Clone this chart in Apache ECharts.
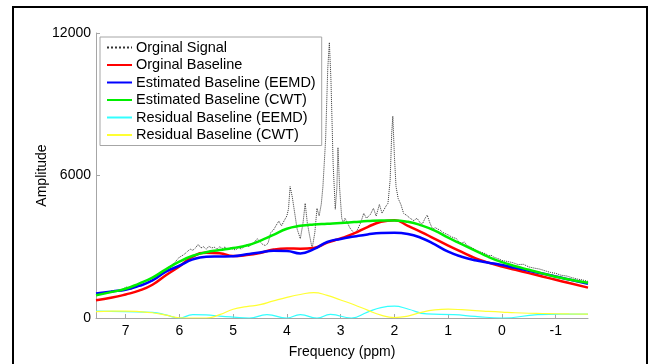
<!DOCTYPE html>
<html>
<head>
<meta charset="utf-8">
<script src="https://cdn.jsdelivr.net/npm/echarts@6/dist/echarts.min.js"></script>
<style>
  html, body { margin: 0; padding: 0; background: #fff; }
  #chart { width: 650px; height: 364px; }
</style>
</head>
<body>
<div id="chart"></div>
<script>
// frequency grid (ppm) shared by the smooth baselines
const baseX = [7.55, 7.25, 7.0, 6.75, 6.5, 6.25, 6.0, 5.75, 5.5, 5.25, 5.0, 4.75, 4.5, 4.25, 4.0, 3.75, 3.5, 3.25, 3.0,
    2.75, 2.5, 2.25, 2.0, 1.75, 1.5, 1.25, 1.0, 0.75, 0.5, 0.25, 0, -0.25, -0.5, -0.75, -1.0, -1.25, -1.6];

const origBaseline = [750, 860, 990, 1150, 1400, 1800, 2170, 2580, 2750, 2730, 2610, 2650, 2740, 2880, 2930, 2920, 2950, 3175, 3350,
    3560, 3830, 4050, 4120, 3880, 3620, 3330, 3050, 2780, 2520, 2330, 2170, 2030, 1890, 1750, 1610, 1470, 1280];

const eemdBaseline = [1030, 1120, 1190, 1350, 1580, 1950, 2200, 2470, 2580, 2590, 2600, 2680, 2760, 2830, 2820, 2720, 2900, 3200, 3330,
    3430, 3520, 3580, 3590, 3540, 3370, 3100, 2790, 2580, 2430, 2330, 2230, 2110, 1990, 1870, 1750, 1620, 1440];

const cwtBaseline = [960, 1100, 1230, 1450, 1700, 2050, 2370, 2620, 2770, 2860, 2950, 3050, 3250, 3500, 3760, 3880, 3940, 3970, 4000,
    4040, 4080, 4110, 4110, 4050, 3900, 3680, 3380, 3110, 2840, 2570, 2350, 2180, 2030, 1880, 1740, 1620, 1480];

const cwtResidual = [270, 290, 290, 270, 220, 120, 10, 0, 0, 140, 370, 480, 560, 720, 870, 990, 1070, 950, 760,
    560, 330, 120, 20, 80, 240, 340, 370, 350, 310, 280, 250, 220, 200, 190, 180, 170, 165];

const eemdResidualX = [7.55, 7.0, 6.5, 6.25, 6.0, 5.75, 5.5, 5.25, 5.0, 4.7, 4.37, 4.0, 3.75, 3.44, 3.19, 2.8,
    2.5, 2.25, 2.0, 1.75, 1.4, 0.9, 0.5, 0, -0.66, -1.1, -1.6];
const eemdResidual = [290, 265, 235, 130, 0, 140, 130, 80, 40, 0, 140, 0, 140, 0, 150, 0,
    250, 440, 500, 380, 170, 140, 70, 0, 140, 165, 165];

const signalX = [7.55, 7.45, 7.35, 7.25, 7.15, 7.05, 6.98, 6.9, 6.8, 6.7, 6.6, 6.5, 6.4, 6.3, 6.25, 6.2, 6.1, 6.0,
    5.95, 5.9, 5.85, 5.8, 5.75, 5.7, 5.65, 5.6, 5.55, 5.5, 5.45, 5.4, 5.35, 5.3, 5.25, 5.2, 5.15, 5.1, 5.05, 5.0,
    4.95, 4.9, 4.85, 4.8, 4.75, 4.7, 4.65, 4.6, 4.55, 4.5, 4.45, 4.4, 4.35, 4.3, 4.25, 4.2, 4.15, 4.1, 4.05, 4.0,
    3.97, 3.94, 3.9, 3.86, 3.81, 3.75, 3.7, 3.66, 3.62, 3.58, 3.53, 3.48, 3.44, 3.4, 3.36, 3.33, 3.28, 3.24, 3.21,
    3.18, 3.14, 3.1, 3.07, 3.05, 3.02, 2.98, 2.95, 2.92, 2.88, 2.83, 2.78, 2.73, 2.68, 2.63, 2.57, 2.52, 2.45, 2.39,
    2.34, 2.28, 2.23, 2.16, 2.12, 2.08, 2.05, 2.03, 2.0, 1.97, 1.93, 1.88, 1.83, 1.76, 1.71, 1.64, 1.58, 1.52, 1.48,
    1.43, 1.39, 1.34, 1.29, 1.24, 1.2, 1.15, 1.1, 1.0, 0.95, 0.9, 0.85, 0.8, 0.75, 0.7, 0.65, 0.6, 0.55, 0.5, 0.45,
    0.4, 0.35, 0.3, 0.25, 0.2, 0.15, 0.1, 0.05, 0, -0.1, -0.2, -0.3, -0.4, -0.5, -0.6, -0.7, -0.8, -0.9, -1.0, -1.1,
    -1.2, -1.3, -1.4, -1.5, -1.6];
const signalY = [1000, 1060, 1040, 1150, 1120, 1230, 1300, 1200, 1330, 1380, 1480, 1560, 1700, 1900, 2000, 2150, 2300, 2560,
    2620, 2700, 2800, 2900, 2850, 2950, 3100, 2950, 3000, 2900, 3020, 2950, 2980, 2900, 3000, 2930, 2990, 2880, 2950, 2900,
    2860, 2980, 2900, 3000, 3080, 3000, 3120, 3200, 3340, 3200, 3100, 3050, 3150, 3600, 3700, 3900, 4080, 3880, 4100, 4300,
    4600, 5530, 5100, 4500, 3750, 3340, 4000, 4830, 4000, 3500, 2930, 3600, 4620, 4300, 4800, 5530, 7500, 10500, 11600,
    10000, 6500, 4580, 5500, 7175, 5500, 4200, 4000, 4200, 4040, 3800, 3650, 3550, 3750, 4000, 4410, 4200, 4350, 4620,
    4290, 4780, 4410, 4700, 4830, 5800, 7800, 8495, 6800, 5530, 5030, 4780, 4410, 4300, 4200, 4100, 4200, 4000, 3960,
    4200, 4330, 4000, 3750, 3800, 3750, 3700, 3600, 3500, 3430, 3380, 3350, 3200, 3150, 3200, 3050, 3010, 2950, 2880, 2820,
    2780, 2740, 2700, 2620, 2640, 2560, 2520, 2480, 2420, 2380, 2330, 2250, 2260, 2150, 2100, 2060, 1990, 1920, 1880, 1800,
    1770, 1700, 1640, 1600, 1540];

const xTicks = [7, 6, 5, 4, 3, 2, 1, 0, -1];
const yTicks = [0, 6000, 12000];

const zip = (xs, ys) => xs.map((x, i) => [x, ys[i]]);

const chart = echarts.init(document.getElementById('chart'));
const font = '"Liberation Sans", Arial, sans-serif';
const axisGrey = '#a6a6a6';

const lineSeries = (name, xs, ys, color, width, smooth, type) => ({
    name: name,
    type: 'line',
    data: zip(xs, ys),
    symbol: 'none',
    smooth: smooth,
    animation: false,
    lineStyle: { color: color, width: width, type: type || 'solid' },
    itemStyle: { color: color }
});

const option = {
    animation: false,
    backgroundColor: '#fff',
    textStyle: { fontFamily: font },
    graphic: [{
        type: 'rect',
        silent: true,
        shape: { x: 13, y: 7, width: 634, height: 400 },
        style: { fill: 'none', stroke: '#000', lineWidth: 2 }
    }],
    grid: { left: 96, top: 33, right: 62, bottom: 40 },
    xAxis: {
        type: 'value',
        inverse: true,
        min: -1.6,
        max: 7.55,
        name: 'Frequency (ppm)',
        nameLocation: 'middle',
        nameGap: 27,
        nameMoveOverlap: false,
        nameTextStyle: { color: '#000', fontSize: 14, fontFamily: font },
        splitLine: { show: false },
        axisLine: { onZero: false, lineStyle: { color: axisGrey, width: 1 } },
        axisTick: { inside: true, length: 4, customValues: xTicks, lineStyle: { color: axisGrey } },
        axisLabel: { customValues: xTicks, color: '#000', fontSize: 14, margin: 6, fontFamily: font }
    },
    yAxis: {
        type: 'value',
        min: 0,
        max: 12000,
        name: 'Amplitude',
        nameLocation: 'middle',
        nameGap: 47,
        nameMoveOverlap: false,
        nameTextStyle: { color: '#000', fontSize: 14, fontFamily: font },
        splitLine: { show: false },
        axisLine: { show: true, onZero: false, lineStyle: { color: axisGrey, width: 1 } },
        axisTick: { inside: true, length: 4, customValues: yTicks, lineStyle: { color: axisGrey } },
        axisLabel: {
            customValues: yTicks, color: '#000', fontSize: 14, margin: 5, fontFamily: font,
            formatter: v => String(v)
        }
    },
    legend: {
        orient: 'vertical',
        left: 100,
        top: 37,
        padding: [3, 6, 3, 6],
        itemGap: 2.5,
        itemWidth: 25,
        itemHeight: 15,
        itemStyle: { opacity: 0 },
        backgroundColor: '#fff',
        borderColor: axisGrey,
        borderWidth: 1,
        borderRadius: 0,
        textStyle: { color: '#000', fontSize: 14.5, lineHeight: 15, fontFamily: font, padding: [0, 0, 0, -1] },
        data: ['Orginal Signal', 'Orginal Baseline', 'Estimated Baseline (EEMD)', 'Estimated Baseline (CWT)',
            'Residual Baseline (EEMD)', 'Residual Baseline (CWT)']
    },
    series: [
        lineSeries('Orginal Signal', signalX, signalY, '#333', 1, false, 'dotted'),
        lineSeries('Orginal Baseline', baseX, origBaseline, '#ff0000', 2.5, true),
        lineSeries('Estimated Baseline (EEMD)', baseX, eemdBaseline, '#0000ff', 2.5, true),
        lineSeries('Estimated Baseline (CWT)', baseX, cwtBaseline, '#00ee00', 2.5, true),
        lineSeries('Residual Baseline (EEMD)', eemdResidualX, eemdResidual, '#33ffff', 1.2, true),
        lineSeries('Residual Baseline (CWT)', baseX, cwtResidual, '#ffff33', 1.2, true)
    ]
};

chart.setOption(option);
</script>
</body>
</html>
